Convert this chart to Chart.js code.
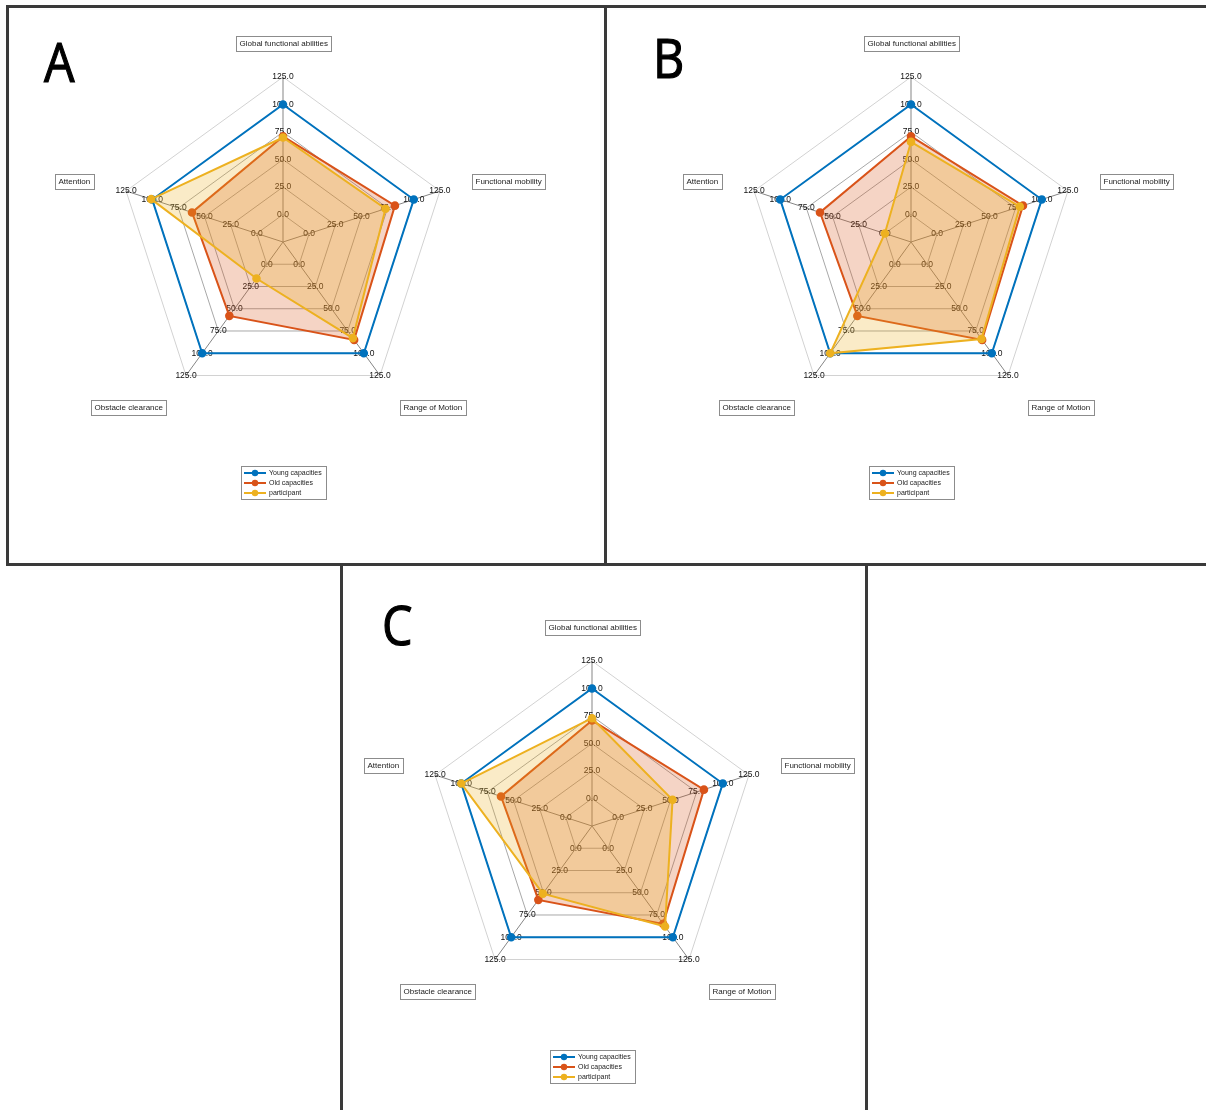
<!DOCTYPE html>
<html>
<head>
<meta charset="utf-8">
<script src="https://cdn.jsdelivr.net/npm/chart.js@4.4.1/dist/chart.umd.min.js"></script>
<style>
  html, body { margin: 0; padding: 0; background: #fff; }
  body { width: 1206px; height: 1110px; position: relative; overflow: hidden; }
  .rule { position: absolute; background: #3a3a3a; }
  .letter { position: absolute; font-family: "Open Sans", "Liberation Sans", Arial, sans-serif; font-size: 55px; line-height: 55px;
            color: #000; -webkit-text-stroke: 1.2px #000; transform: scaleX(0.88); transform-origin: left top; }
  canvas { position: absolute; }
</style>
</head>
<body>
<div class="rule" style="left:6px;top:5px;width:1200px;height:3px"></div>
<div class="rule" style="left:6px;top:5px;width:3px;height:561px"></div>
<div class="rule" style="left:604px;top:5px;width:3px;height:561px"></div>
<div class="rule" style="left:6px;top:563px;width:1200px;height:3px"></div>
<div class="rule" style="left:340px;top:563px;width:3px;height:547px"></div>
<div class="rule" style="left:865px;top:563px;width:3px;height:547px"></div>

<div class="letter" style="left:44px;top:33px">A</div>
<div class="letter" style="left:653px;top:29px">B</div>
<div class="letter" style="left:382px;top:596px">C</div>

<canvas id="chartA" width="594" height="554" style="left:10px;top:9px"></canvas>
<canvas id="chartB" width="596" height="554" style="left:608px;top:9px"></canvas>
<canvas id="chartC" width="520" height="540" style="left:344px;top:568px"></canvas>

<script>
// --- data ---
const axisLabels = ['Global functional abilities', 'Functional mobility', 'Range of Motion', 'Obstacle clearance', 'Attention'];
const tickValues = [0, 25, 50, 75, 100, 125];
const seriesNames = ['Young capacities', 'Old capacities', 'participant'];
const youngCapacities = [100, 100, 100, 100, 100];
const oldCapacities = [71, 82, 85, 58, 62];
const participantA = [70, 73, 83, 16, 101];
const participantB = [66, 79, 84, 100, 0];
const participantC = [73, 52, 88, 51, 100];

const lineColors = ['#0072BD', '#D95319', '#EDB120'];
const fillColors = ['rgba(0,0,0,0)', 'rgba(217,83,25,0.25)', 'rgba(237,177,32,0.25)'];
const FONT = '"Liberation Sans", Arial, sans-serif';
const R = 165;

// --- tick labels on every spoke (under the data, like the original) ---
const spokeTicks = {
    id: 'spokeTicks',
    beforeDatasetsDraw(chart) {
        const ctx = chart.ctx, r = chart.scales.r;
        ctx.save();
        ctx.font = '8.5px ' + FONT;
        ctx.fillStyle = '#111';
        ctx.textAlign = 'center';
        ctx.textBaseline = 'middle';
        chart.data.labels.forEach((lab, i) => {
            tickValues.forEach(v => {
                const p = r.getPointPositionForValue(i, v);
                ctx.fillText(v.toFixed(1), p.x, p.y);
            });
        });
        ctx.restore();
    }
};

// --- boxed axis names + matlab style legend ---
const boxedLabels = {
    id: 'boxedLabels',
    afterDraw(chart) {
        const ctx = chart.ctx, r = chart.scales.r;
        ctx.save();
        ctx.font = '8px ' + FONT;
        ctx.textBaseline = 'middle';
        chart.data.labels.forEach((lab, i) => {
            const p = r.getPointPosition(i, r.drawingArea + 34);
            const w = Math.round(ctx.measureText(lab).width + 7), h = 15;
            let x0;
            if (p.x > r.xCenter + 5) x0 = p.x;
            else if (p.x < r.xCenter - 5) x0 = p.x - w;
            else x0 = p.x - w / 2;
            x0 = Math.round(x0);
            const yc = Math.round(p.y > r.yCenter ? p.y + 4 : p.y);
            ctx.fillStyle = '#fff';
            ctx.fillRect(x0, yc - 7, w, h);
            ctx.strokeStyle = '#8c8c8c';
            ctx.lineWidth = 1;
            ctx.strokeRect(x0 + 0.5, yc - 7 + 0.5, w, h);
            ctx.fillStyle = '#222';
            ctx.textAlign = 'left';
            ctx.fillText(lab, x0 + 3.5, yc + 1);
        });

        // legend
        ctx.font = '7px ' + FONT;
        const ds = chart.data.datasets;
        let tw = 0;
        ds.forEach(d => { tw = Math.max(tw, ctx.measureText(d.label).width); });
        const lw = Math.round(tw + 32), lh = 33;
        const lx = Math.round(r.xCenter - lw / 2), ly = Math.round(r.yCenter + 224);
        ctx.fillStyle = '#fff';
        ctx.fillRect(lx, ly, lw, lh);
        ctx.strokeStyle = '#8c8c8c';
        ctx.strokeRect(lx + 0.5, ly + 0.5, lw, lh);
        ds.forEach((d, k) => {
            const y = ly + 7 + k * 10;
            ctx.strokeStyle = d.borderColor;
            ctx.lineWidth = 2;
            ctx.beginPath();
            ctx.moveTo(lx + 3, y);
            ctx.lineTo(lx + 25, y);
            ctx.stroke();
            ctx.fillStyle = d.borderColor;
            ctx.beginPath();
            ctx.arc(lx + 14, y, 3.2, 0, Math.PI * 2);
            ctx.fill();
            ctx.fillStyle = '#222';
            ctx.textAlign = 'left';
            ctx.fillText(d.label, lx + 28, y + 0.5);
        });
        ctx.restore();
    }
};

const makeSet = (k, values, order) => ({
    label: seriesNames[k],
    data: values,
    borderColor: lineColors[k],
    backgroundColor: fillColors[k],
    pointBackgroundColor: lineColors[k],
    pointBorderColor: lineColors[k],
    pointRadius: 3.3,
    borderWidth: 2,
    fill: k === 0 ? false : 'start',
    order: order
});

const drawPanel = (id, participant, cx, cy) => {
    const canvas = document.getElementById(id);
    const W = canvas.width, H = canvas.height;
    new Chart(canvas.getContext('2d'), {
        type: 'radar',
        data: {
            labels: axisLabels,
            datasets: [
                makeSet(0, youngCapacities, 3),
                makeSet(1, oldCapacities, 2),
                makeSet(2, participant, 1)
            ]
        },
        options: {
            responsive: false,
            animation: false,
            devicePixelRatio: 1,
            layout: { padding: { left: cx - R, right: W - cx - R, top: cy - R, bottom: H - cy - R } },
            plugins: { legend: { display: false }, tooltip: { enabled: false } },
            elements: { line: { tension: 0 } },
            scales: {
                r: {
                    min: -25,
                    max: 125,
                    ticks: { display: false, stepSize: 25 },
                    pointLabels: { display: false },
                    grid: {
                        color: c => (c.tick && c.tick.value === 125) ? '#d2d2d2' : '#a8a8a8',
                        lineWidth: 1
                    },
                    angleLines: { color: '#858585', lineWidth: 1 }
                }
            }
        },
        plugins: [spokeTicks, boxedLabels]
    });
};

drawPanel('chartA', participantA, 273, 233);
drawPanel('chartB', participantB, 303, 233);
drawPanel('chartC', participantC, 248, 258);
</script>
</body>
</html>
